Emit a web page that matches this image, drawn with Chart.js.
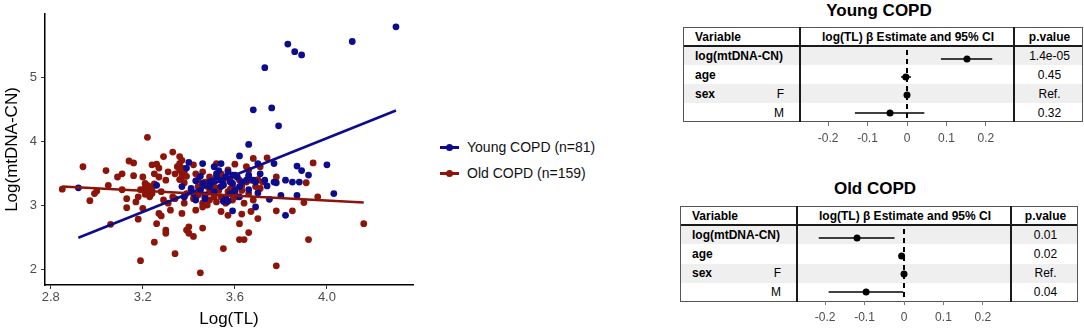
<!DOCTYPE html>
<html>
<head>
<meta charset="utf-8">
<script src="https://cdn.jsdelivr.net/npm/chart.js@4.4.0/dist/chart.umd.min.js"></script>
<style>
  body { margin:0; width:1084px; height:332px; background:#fff; position:relative; overflow:hidden; font-family:"Liberation Sans", Arial, sans-serif; }
  #scatter { position:absolute; left:0; top:0; }
  .legend { position:absolute; left:440px; top:134px; font-size:14px; color:#111; }
  .legend .item { height:26px; display:flex; align-items:center; }
  .legend .sym { position:relative; width:19px; height:3px; margin-right:8px; }
  .legend .sym span { position:absolute; left:6px; top:-2px; width:7px; height:7px; border-radius:50%; }
  .ftitle { position:absolute; font-weight:bold; font-size:17px; line-height:20px; text-align:center; color:#000; }
  .fbox { position:absolute; box-sizing:border-box; border:1px solid #555; font-size:12px; color:#000; }
  .frow { position:absolute; left:0; right:0; }
  .frow div { position:absolute; top:0; bottom:0; display:flex; align-items:center; white-space:nowrap; }
  .sep { position:absolute; background:#1a1a1a; }
  .fcanvas { position:absolute; }
</style>
</head>
<body>
<canvas id="scatter" width="420" height="332"></canvas>
<div class="legend" id="legend"></div>
<div id="forests"></div>
<script>
// scatter: Log(TL) vs Log(mtDNA-CN)
const youngX = [4.30,4.11,3.83,3.86,3.89,3.73,3.68,3.76,3.79,3.66,3.62,2.92,3.26,4.00,4.03,3.87,3.89,3.92,3.82,3.85,
  3.88,3.80,3.87,3.82,3.77,3.73,3.75,3.78,3.59,3.69,3.70,3.66,3.70,3.40,3.46,3.39,3.51,3.54,3.52,3.43,
  3.46,3.43,3.47,3.55,3.57,3.62,3.59,3.56,3.58,3.54,3.51,3.49,3.41,3.45,3.65,3.68,3.71,3.61,3.58,3.60,
  3.62,3.53,3.54,3.52,3.49,3.47,3.42,3.38,3.37,3.57,3.59,3.66,3.69,3.77,3.50,3.55,3.60,3.63,3.45,3.56,3.74];
const youngY = [5.79,5.56,5.52,5.40,5.35,5.15,4.49,4.52,4.24,3.95,3.77,3.27,3.31,3.63,3.18,3.61,3.54,3.47,3.39,3.36,
  3.36,3.15,3.15,2.84,3.65,3.39,3.09,3.35,2.91,2.97,3.19,3.24,3.65,3.67,3.65,3.58,3.60,3.65,3.49,3.38,
  3.34,3.08,3.10,3.06,3.06,3.29,3.34,3.44,3.36,3.29,3.21,3.29,3.26,3.23,3.39,3.39,3.49,3.44,3.18,3.23,
  3.13,3.54,3.39,3.44,3.36,3.16,3.18,3.13,3.29,3.52,3.47,3.47,3.36,3.36,3.38,3.32,3.47,3.36,3.45,3.12,3.30];
const oldX = [2.85,2.94,2.97,2.99,3.04,3.05,3.06,3.09,3.11,3.11,3.13,3.14,3.16,3.16,3.17,3.18,3.18,3.19,3.20,3.20,
  3.21,3.22,3.22,3.23,3.23,3.24,3.24,3.25,3.25,3.26,3.26,3.27,3.27,3.28,3.28,3.29,3.29,3.30,3.30,3.30,
  3.31,3.32,3.33,3.34,3.33,3.34,3.35,3.36,3.36,3.37,3.37,3.37,3.37,3.38,3.38,3.38,3.39,3.39,3.40,3.40,
  3.41,3.42,3.42,3.43,3.43,3.44,3.44,3.44,3.45,3.46,3.46,3.46,3.46,3.47,3.47,3.48,3.49,3.49,3.49,3.50,
  3.51,3.51,3.52,3.52,3.53,3.54,3.54,3.54,3.55,3.55,3.56,3.57,3.57,3.58,3.59,3.59,3.60,3.61,3.61,3.62,
  3.62,3.62,3.63,3.63,3.64,3.64,3.65,3.65,3.66,3.66,3.66,3.67,3.67,3.68,3.68,3.69,3.70,3.71,3.71,3.72,
  3.74,3.78,3.78,3.78,3.85,3.90,3.91,3.92,3.94,3.96,4.16,3.21,3.22,3.23,3.24,3.21,3.25,3.19,3.36,3.37,
  3.38,3.36,3.39,3.52,3.55,3.58,3.60,3.63,3.66,3.45,3.42,3.48,3.31,3.27,3.13,3.00,3.34,3.70,3.57];
const oldY = [3.25,3.60,3.07,3.18,3.54,3.31,2.70,3.44,3.49,3.24,2.96,3.69,3.66,3.46,3.05,3.13,2.78,2.13,2.95,3.44,
  3.34,4.06,3.23,3.29,3.13,3.63,3.18,2.42,3.49,3.64,2.71,2.87,3.44,3.21,2.83,3.76,3.08,2.61,2.56,3.39,
  3.03,2.92,3.83,2.24,3.13,3.49,3.60,3.55,3.76,3.70,2.87,3.44,3.49,3.35,3.13,3.03,3.18,2.61,2.56,2.66,
  3.23,2.51,3.63,3.49,2.92,3.29,3.16,3.39,1.94,2.64,3.03,3.52,2.97,3.36,3.13,3.29,3.21,3.08,3.44,3.31,
  3.13,3.36,3.65,3.05,3.23,2.90,3.49,3.13,2.32,3.31,3.03,2.84,3.21,3.39,3.08,3.29,3.64,3.44,3.13,3.39,
  2.46,2.71,2.86,3.23,2.46,3.03,3.60,3.36,3.55,2.57,3.18,3.39,2.90,3.73,3.08,3.29,2.79,3.60,3.26,3.36,
  3.74,2.91,2.05,3.44,2.91,3.04,3.35,2.46,3.66,3.13,2.71,3.27,3.31,3.21,3.26,3.17,3.33,3.24,3.65,3.58,
  3.52,3.40,3.45,3.27,3.38,3.25,3.18,3.30,3.45,3.25,3.10,3.00,3.52,3.58,3.10,3.22,3.10,3.40,3.55];
// fitted lines (end points)
const youngFitX = [2.92, 4.30];
const youngFitY = [2.49, 4.48];
const oldFitX = [2.85, 4.16];
const oldFitY = [3.29, 3.04];
const scatterTicksX = [2.8, 3.2, 3.6, 4.0];
const scatterTicksY = [2, 3, 4, 5];
const legendLabels = ['Young COPD (n=81)', 'Old COPD (n=159)'];

// forest plots
const varLabels = ['log(mtDNA-CN)', 'age', 'sex', ''];
const subLabels = ['', '', 'F', 'M'];
const youngEst = [0.152, -0.003, 0, -0.043];
const youngLo = [0.086, -0.015, null, -0.132];
const youngHi = [0.216, 0.010, null, 0.044];
const youngP = ['1.4e-05', '0.45', 'Ref.', '0.32'];
const oldEst = [-0.119, -0.006, 0, -0.096];
const oldLo = [-0.216, -0.011, null, -0.191];
const oldHi = [-0.024, -0.001, null, -0.002];
const oldP = ['0.01', '0.02', 'Ref.', '0.04'];
const forestTicks = [-0.2, -0.1, 0, 0.1, 0.2];

const BLUE = '#0c0c8c';
const RED = '#8c1408';
const FONT = '"Liberation Sans", Arial, sans-serif';

const pts = (xs, ys) => xs.map((x, i) => ({ x, y: ys[i] }));

new Chart(document.getElementById('scatter'), {
  type: 'scatter',
  data: {
    datasets: [
      { data: pts(youngFitX, youngFitY), showLine: true, borderColor: BLUE, borderWidth: 2.6, pointRadius: 0 },
      { data: pts(oldFitX, oldFitY), showLine: true, borderColor: RED, borderWidth: 2.6, pointRadius: 0 },
      { label: legendLabels[0], data: pts(youngX, youngY), backgroundColor: BLUE, borderColor: BLUE, pointRadius: 3.4, borderWidth: 0 },
      { label: legendLabels[1], data: pts(oldX, oldY), backgroundColor: RED, borderColor: RED, pointRadius: 3.4, borderWidth: 0 }
    ]
  },
  options: {
    responsive: false,
    animation: false,
    layout: { padding: { top: 14, right: 7, left: 0, bottom: 0 } },
    plugins: { legend: { display: false }, tooltip: { enabled: false } },
    scales: {
      x: {
        type: 'linear', min: 2.775, max: 4.374,
        afterBuildTicks: s => { s.ticks = scatterTicksX.map(v => ({ value: v })); },
        afterFit: s => { s.height = 47; },
        border: { color: '#000', width: 1.5 },
        grid: { drawOnChartArea: false, tickLength: 4, color: '#333' },
        ticks: { padding: 1, color: '#4d4d4d', font: { size: 13, family: FONT }, callback: v => v.toFixed(1) },
        title: { display: true, text: 'Log(TL)', color: '#000', font: { size: 17, family: FONT }, padding: { top: 0, bottom: 2 } }
      },
      y: {
        type: 'linear', min: 1.75, max: 5.99,
        afterBuildTicks: s => { s.ticks = scatterTicksY.map(v => ({ value: v })); },
        afterFit: s => { s.width = 45; },
        border: { color: '#000', width: 1.5 },
        grid: { drawOnChartArea: false, tickLength: 4, color: '#333' },
        ticks: { padding: 4, color: '#4d4d4d', font: { size: 13, family: FONT } },
        title: { display: true, text: 'Log(mtDNA-CN)', color: '#000', font: { size: 17, family: FONT }, padding: { top: 2, bottom: 0 } }
      }
    }
  }
});

// legend
const legendEl = document.getElementById('legend');
[BLUE, RED].forEach((c, i) => {
  const item = document.createElement('div');
  item.className = 'item';
  item.innerHTML = `<div class="sym" style="background:${c}"><span style="background:${c}"></span></div><div>${legendLabels[i]}</div>`;
  legendEl.appendChild(item);
});

// forest table + chart
function buildForest(cfg) {
  const root = document.getElementById('forests');
  const [w1, w2, w3] = cfg.widths;
  const W = w1 + w2 + w3, H = cfg.rowH * 5;

  const title = document.createElement('div');
  title.className = 'ftitle';
  title.style.cssText = `left:${cfg.left}px;top:${cfg.titleTop}px;width:${W - 8}px;`;
  title.textContent = cfg.title;
  root.appendChild(title);

  const box = document.createElement('div');
  box.className = 'fbox';
  box.style.cssText = `left:${cfg.left}px;top:${cfg.top}px;width:${W}px;height:${H}px;`;
  const rows = [['Variable', '', 'p.value', true]].concat(varLabels.map((v, i) => [v, subLabels[i], cfg.p[i], false]));
  rows.forEach((r, i) => {
    const row = document.createElement('div');
    row.className = 'frow';
    row.style.top = (i * cfg.rowH - 1) + 'px';
    row.style.height = cfg.rowH + 'px';
    if (i === 1 || i === 3) row.style.background = '#efefef';
    row.innerHTML =
      `<div style="left:11px;font-weight:bold">${r[0]}</div>` +
      `<div style="left:0;width:${w1 - 17}px;justify-content:flex-end">${r[1]}</div>` +
      (i === 0 ? `<div style="left:${w1}px;width:${w2}px;justify-content:center;font-weight:bold">log(TL) β Estimate and 95% CI</div>` : '') +
      `<div style="left:${w1 + w2}px;width:${w3}px;justify-content:center;${r[3] ? 'font-weight:bold' : ''}">${r[2]}</div>`;
    box.appendChild(row);
  });
  const hline = document.createElement('div');
  hline.className = 'sep';
  hline.style.cssText = `left:0;right:0;top:${cfg.rowH - 2}px;height:2px;`;
  box.appendChild(hline);
  [w1, w1 + w2].forEach(x => {
    const s = document.createElement('div');
    s.className = 'sep';
    s.style.cssText = `left:${x - 2}px;top:-1px;bottom:-1px;width:2px;`;
    box.appendChild(s);
  });
  root.appendChild(box);

  const cv = document.createElement('canvas');
  cv.className = 'fcanvas';
  cv.width = w2; cv.height = cfg.rowH * 4 + 26;
  cv.style.left = (cfg.left + w1) + 'px';
  cv.style.top = (cfg.top + cfg.rowH) + 'px';
  root.appendChild(cv);

  const rowY = cfg.est.map((_, i) => i + 1);
  const datasets = [
    { data: [{ x: 0, y: 0.5 }, { x: 0, y: 4.5 }], showLine: true, borderColor: '#000', borderWidth: 2, borderDash: [5, 4], pointRadius: 0 }
  ];
  cfg.est.forEach((e, i) => {
    if (cfg.lo[i] === null) return;
    datasets.push({ data: [{ x: cfg.lo[i], y: rowY[i] }, { x: cfg.hi[i], y: rowY[i] }], showLine: true, borderColor: '#000', borderWidth: 1.5, pointRadius: 0 });
  });
  datasets.unshift({ data: pts(cfg.est, rowY), backgroundColor: '#000', borderColor: '#000', pointRadius: 3.5, borderWidth: 0 });

  new Chart(cv, {
    type: 'scatter',
    data: { datasets },
    options: {
      responsive: false,
      animation: false,
      layout: { padding: 0 },
      plugins: { legend: { display: false }, tooltip: { enabled: false } },
      scales: {
        x: {
          type: 'linear', min: -0.261, max: 0.261,
          afterBuildTicks: s => { s.ticks = forestTicks.map(v => ({ value: v })); },
          afterFit: s => { s.height = 26; },
          border: { display: false },
          grid: { drawOnChartArea: false, tickLength: 4, color: '#777' },
          ticks: { padding: 5, color: '#4d4d4d', font: { size: 12, family: FONT }, callback: v => v === 0 ? '0' : v.toFixed(1) }
        },
        y: { type: 'linear', display: false, min: 0.5, max: 4.5, reverse: true }
      }
    }
  });
}

buildForest({ title: 'Young COPD', left: 683, top: 27, titleTop: 1, widths: [117, 214, 69], rowH: 19,
  est: youngEst, lo: youngLo, hi: youngHi, p: youngP });
buildForest({ title: 'Old COPD', left: 680, top: 206, titleTop: 179, widths: [117, 214, 67], rowH: 19.2,
  est: oldEst, lo: oldLo, hi: oldHi, p: oldP });
</script>
</body>
</html>
